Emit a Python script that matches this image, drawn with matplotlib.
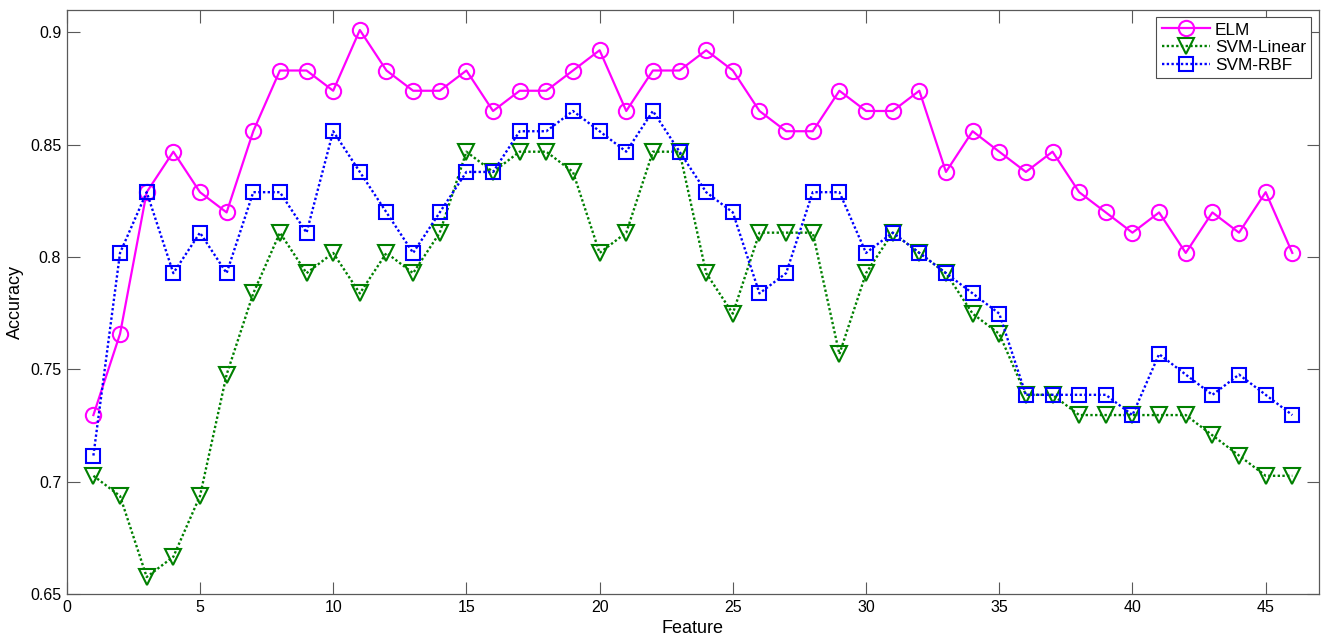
import matplotlib
matplotlib.use("Agg")
import matplotlib.pyplot as plt
import numpy as np

plt.rcParams['font.family'] = ['Liberation Sans', 'DejaVu Sans']

features = list(range(1, 47))
elm = [0.7297, 0.7658, 0.8288, 0.8468, 0.8288, 0.8198, 0.8559, 0.8829, 0.8829, 0.8739,
       0.9009, 0.8829, 0.8739, 0.8739, 0.8829, 0.8649, 0.8739, 0.8739, 0.8829, 0.8919,
       0.8649, 0.8829, 0.8829, 0.8919, 0.8829, 0.8649, 0.8559, 0.8559, 0.8739, 0.8649,
       0.8649, 0.8739, 0.8378, 0.8559, 0.8468, 0.8378, 0.8468, 0.8288, 0.8198, 0.8108,
       0.8198, 0.8018, 0.8198, 0.8108, 0.8288, 0.8018]
svm_linear = [0.7027, 0.6937, 0.6577, 0.6667, 0.6937, 0.7477, 0.7838, 0.8108, 0.7928, 0.8018,
              0.7838, 0.8018, 0.7928, 0.8108, 0.8468, 0.8378, 0.8468, 0.8468, 0.8378, 0.8018,
              0.8108, 0.8468, 0.8468, 0.7928, 0.7748, 0.8108, 0.8108, 0.8108, 0.7568, 0.7928,
              0.8108, 0.8018, 0.7928, 0.7748, 0.7658, 0.7387, 0.7387, 0.7297, 0.7297, 0.7297,
              0.7297, 0.7297, 0.7207, 0.7117, 0.7027, 0.7027]
svm_rbf = [0.7117, 0.8018, 0.8288, 0.7928, 0.8108, 0.7928, 0.8288, 0.8288, 0.8108, 0.8559,
           0.8378, 0.8198, 0.8018, 0.8198, 0.8378, 0.8378, 0.8559, 0.8559, 0.8649, 0.8559,
           0.8468, 0.8649, 0.8468, 0.8288, 0.8198, 0.7838, 0.7928, 0.8288, 0.8288, 0.8018,
           0.8108, 0.8018, 0.7928, 0.7838, 0.7748, 0.7387, 0.7387, 0.7387, 0.7387, 0.7297,
           0.7568, 0.7477, 0.7387, 0.7477, 0.7387, 0.7297]

fig = plt.figure(figsize=(13.22, 6.37), dpi=100)
ax = fig.add_axes([0.0505, 0.067, 0.9472, 0.918])

dot = (0, (1, 1))
ax.plot(features, elm, color=(1, 0, 1), linestyle='-', linewidth=1.6,
        marker='o', markersize=11, markerfacecolor='none', markeredgewidth=1.5, label='ELM')
ax.plot(features, svm_linear, color=(0, 0.5, 0), linestyle=dot, linewidth=1.7,
        marker='v', markersize=12, markerfacecolor='none', markeredgewidth=1.5, label='SVM-Linear')
ax.plot(features, svm_rbf, color=(0, 0, 1), linestyle=dot, linewidth=1.7,
        marker='s', markersize=9.5, markerfacecolor='none', markeredgewidth=1.5, label='SVM-RBF')

ax.set_xlim(0, 47)
ax.set_ylim(0.65, 0.91)
ax.set_xticks(np.arange(0, 46, 5))
ax.set_yticks([0.65, 0.7, 0.75, 0.8, 0.85, 0.9])
ax.set_yticklabels(['0.65', '0.7', '0.75', '0.8', '0.85', '0.9'])
ax.tick_params(direction='in', length=9, width=0.8, color='0.35', labelsize=11.5,
               top=True, right=True, pad=4)
for s in ax.spines.values():
    s.set_color('0.35')
    s.set_linewidth(0.9)

ax.set_xlabel('Feature', fontsize=13, labelpad=4)
ax.set_ylabel('Accuracy', fontsize=13, labelpad=4)

leg = ax.legend(loc='upper right', fontsize=12.4, handlelength=2.8, borderpad=0.3,
                labelspacing=0.15, handletextpad=0.3, borderaxespad=0.45,
                fancybox=False, framealpha=1)
leg.get_frame().set_edgecolor('0.3')
leg.get_frame().set_linewidth(0.8)

fig.savefig('out.png', dpi=100)
